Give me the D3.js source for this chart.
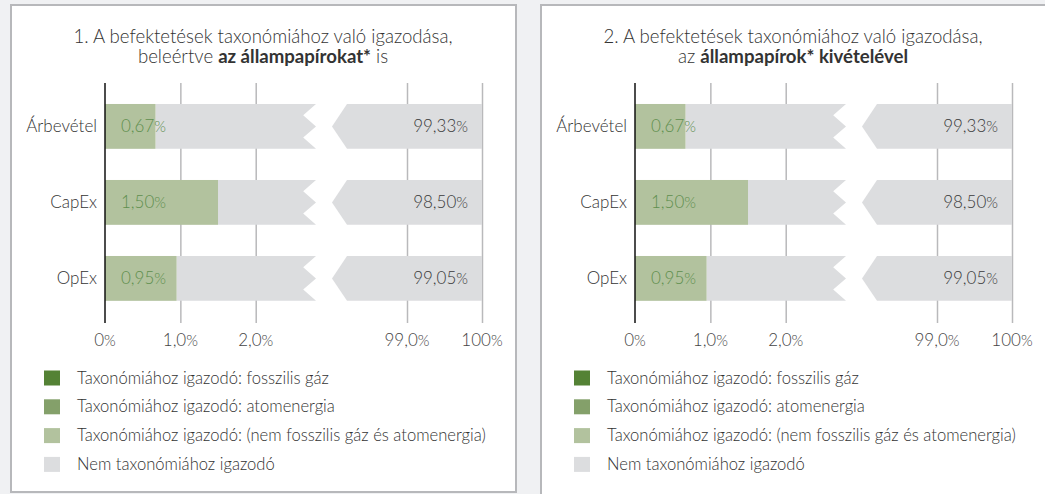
<!DOCTYPE html>
<html>
<head>
<meta charset="utf-8">
<script src="https://cdn.jsdelivr.net/npm/d3@7"></script>
<style>
  body { margin: 0; background: #f0f1f3; }
  text { font-family: Lato, "Open Sans", sans-serif; font-weight: 300; }
</style>
</head>
<body>
<div id="plot"></div>
<script>
// data
var categories = ["Árbevétel", "CapEx", "OpEx"]
var fossilGas = [0, 0, 0]
var nuclear = [0, 0, 0]
var otherAligned = [0.67, 1.50, 0.95]
var notAligned = [99.33, 98.50, 99.05]

var lowTicks = [0, 1, 2]
var highTicks = [99, 100]
var lowTickLabels = ["0", "1,0", "2,0"]
var highTickLabels = ["99,0", "100"]

var titleLine1 = ["1. A befektetések taxonómiához való igazodása,", "2. A befektetések taxonómiához való igazodása,"]
var titleLine2 = [
  [["beleértve ", false], ["az állampapírokat*", true], [" is", false]],
  [["az ", false], ["állampapírok* kivételével", true]]
]

var legendLabels = [
  "Taxonómiához igazodó: fosszilis gáz",
  "Taxonómiához igazodó: atomenergia",
  "Taxonómiához igazodó: (nem fosszilis gáz és atomenergia)",
  "Nem taxonómiához igazodó"
]
var legendColors = ["#548235", "#84a06a", "#b2c29e", "#dcdddf"]

var W = 1045, H = 494

var svg = d3.select("#plot")
  .append("svg")
  .attr("width", W)
  .attr("height", H)

var rows = categories.map((c, i) => ({
  cat: c, gas: fossilGas[i], nuc: nuclear[i], other: otherAligned[i], rest: notAligned[i]
}))

var stack = d3.stack().keys(["gas", "nuc", "other"])(rows)

function pct(sel, num, size) {
  sel.text(num)
  sel.append("tspan").attr("font-size", size).text("%")
}

function drawPanel(p, dx, ph) {
  var g = svg.append("g").attr("transform", "translate(" + dx + ",0)")

  g.append("rect")
    .attr("x", 11).attr("y", 5)
    .attr("width", 505).attr("height", ph)
    .attr("fill", "#fff")
    .attr("stroke", "#b7b8bb")
    .attr("stroke-width", 2)

  // title
  g.append("text")
    .attr("x", 263).attr("y", 43)
    .attr("text-anchor", "middle")
    .attr("font-size", 18.6)
    .attr("fill", "#333")
    .text(titleLine1[p])
  var t2 = g.append("text")
    .attr("x", 263).attr("y", 63)
    .attr("text-anchor", "middle")
    .attr("font-size", 18.6)
    .attr("fill", "#333")
  titleLine2[p].forEach(d => {
    t2.append("tspan")
      .attr("font-weight", d[1] ? 700 : 300)
      .text(d[0])
  })

  // broken x scale: low part and high part
  var xLow = d3.scaleLinear().domain([0, 2.8]).range([105, 316])
  var xHigh = d3.scaleLinear().domain([98, 100]).range([332, 482])

  var y = d3.scaleBand()
    .domain(categories)
    .range([88.4, 316.4])
    .paddingInner(0.41)
    .paddingOuter(0.205)

  var top = 83, bottom = 323

  // grid lines
  g.append("g")
    .attr("transform", "translate(0," + top + ")")
    .call(d3.axisBottom(xLow).tickValues(lowTicks.slice(1)).tickSize(bottom - top).tickFormat(""))
    .call(a => a.select(".domain").remove())
    .selectAll("line").attr("stroke", "#b9b9bb").attr("stroke-width", 1.5)
  g.append("g")
    .attr("transform", "translate(0," + top + ")")
    .call(d3.axisBottom(xHigh).tickValues(highTicks).tickSize(bottom - top).tickFormat(""))
    .call(a => a.select(".domain").remove())
    .selectAll("line").attr("stroke", "#b9b9bb").attr("stroke-width", 1.5)

  var h = y.bandwidth()

  // not aligned: left piece with zigzag break
  g.selectAll(".restLow")
    .data(rows)
    .enter()
    .append("path")
    .attr("fill", "#dcdddf")
    .attr("d", d => {
      var y0 = y(d.cat), x0 = xLow(100 - d.rest), xe = xLow(2.8), xi = xLow(2.63)
      return "M" + x0 + "," + y0 + "L" + xe + "," + y0 +
        "L" + xi + "," + (y0 + h * 0.25) + "L" + xe + "," + (y0 + h * 0.5) +
        "L" + xi + "," + (y0 + h * 0.75) + "L" + xe + "," + (y0 + h) +
        "L" + x0 + "," + (y0 + h) + "Z"
    })

  // not aligned: right piece with chevron
  g.selectAll(".restHigh")
    .data(rows)
    .enter()
    .append("path")
    .attr("fill", "#dcdddf")
    .attr("d", d => {
      var y0 = y(d.cat), xs = xHigh(98.2), xt = xHigh(98), xe = xHigh(100)
      return "M" + xs + "," + y0 + "L" + xe + "," + y0 + "L" + xe + "," + (y0 + h) +
        "L" + xs + "," + (y0 + h) + "L" + xt + "," + (y0 + h / 2) + "Z"
    })

  // aligned stacks
  stack.forEach((s, k) => {
    g.selectAll(".s" + k)
      .data(s)
      .enter()
      .append("rect")
      .attr("x", d => xLow(d[0]))
      .attr("width", d => xLow(d[1]) - xLow(d[0]))
      .attr("y", d => y(d.data.cat))
      .attr("height", h)
      .attr("fill", legendColors[k])
  })

  // zero axis line
  g.append("line")
    .attr("x1", xLow(0)).attr("x2", xLow(0))
    .attr("y1", top).attr("y2", bottom)
    .attr("stroke", "#111")
    .attr("stroke-width", 1.5)

  // category labels
  g.selectAll(".cat")
    .data(categories)
    .enter()
    .append("text")
    .attr("x", 97)
    .attr("y", d => y(d) + h / 2 + 6)
    .attr("text-anchor", "end")
    .attr("font-size", 17)
    .attr("fill", "#333")
    .text(d => d)

  // value labels
  g.selectAll(".vl")
    .data(rows)
    .enter()
    .append("text")
    .attr("x", xLow(0) + 16)
    .attr("y", d => y(d.cat) + h / 2 + 6)
    .attr("font-size", 17)
    .attr("fill", "#5f8f4e")
    .each(function (d) { pct(d3.select(this), d3.format(".2f")(d.gas + d.nuc + d.other).replace(".", ","), 15) })

  g.selectAll(".vr")
    .data(rows)
    .enter()
    .append("text")
    .attr("x", xHigh(100) - 14)
    .attr("y", d => y(d.cat) + h / 2 + 6)
    .attr("text-anchor", "end")
    .attr("font-size", 17)
    .attr("fill", "#3a3a3a")
    .each(function (d) { pct(d3.select(this), d3.format(".2f")(d.rest).replace(".", ","), 15) })

  // tick labels
  lowTicks.forEach((t, i) => {
    g.append("text")
      .attr("x", xLow(t)).attr("y", 346)
      .attr("text-anchor", "middle")
      .attr("font-size", 17)
      .attr("fill", "#444")
      .call(s => pct(s, lowTickLabels[i], 15))
  })
  highTicks.forEach((t, i) => {
    g.append("text")
      .attr("x", xHigh(t)).attr("y", 346)
      .attr("text-anchor", "middle")
      .attr("font-size", 17)
      .attr("fill", "#444")
      .call(s => pct(s, highTickLabels[i], 15))
  })

  // legend
  var lg = g.selectAll(".lg")
    .data(legendLabels)
    .enter()
    .append("g")
    .attr("transform", (d, i) => "translate(44," + (378 + i * 28.8) + ")")
  lg.append("rect")
    .attr("x", 0).attr("y", -7.5)
    .attr("width", 16).attr("height", 15)
    .attr("fill", (d, i) => legendColors[i])
  lg.append("text")
    .attr("x", 33).attr("y", 5.5)
    .attr("font-size", 16.6)
    .attr("fill", "#333")
    .text(d => d)
}

drawPanel(0, 0, 487)
drawPanel(1, 530, 492)
</script>
</body>
</html>
